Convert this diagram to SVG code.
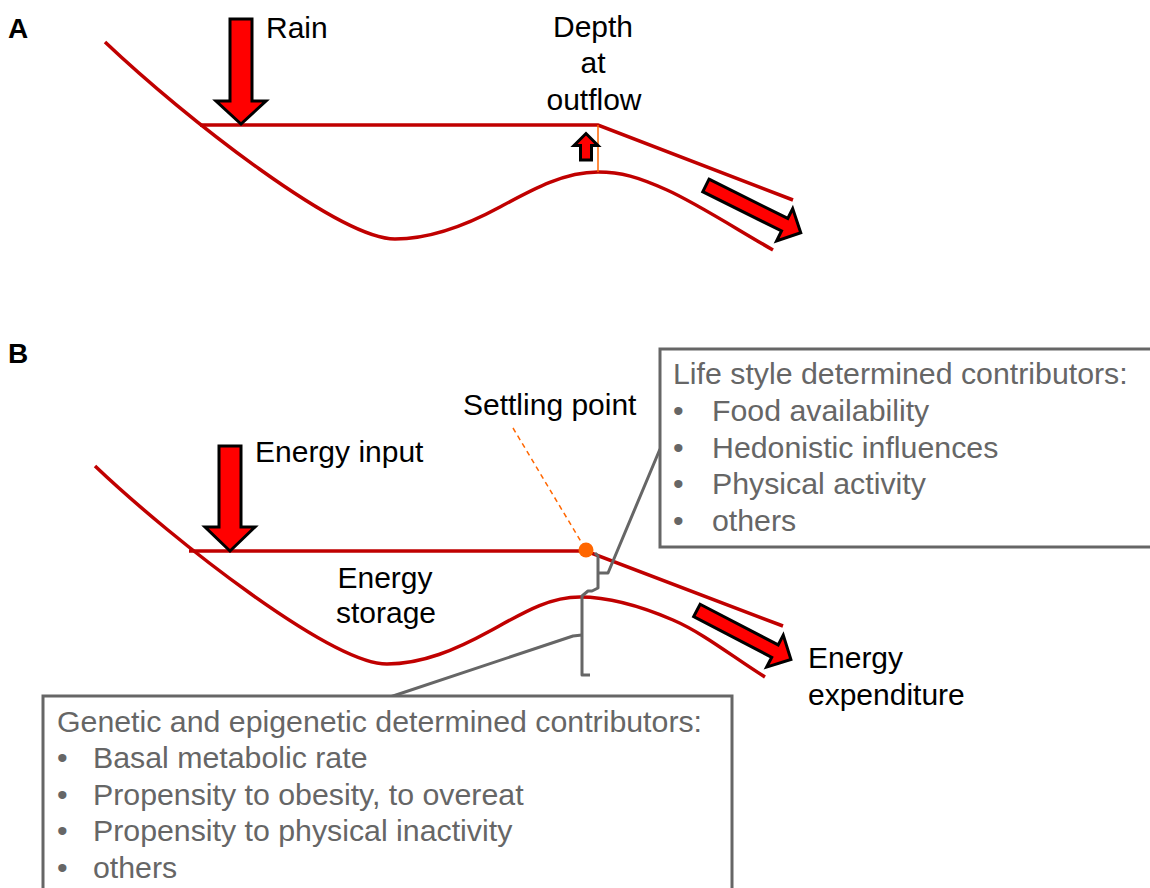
<svg xmlns="http://www.w3.org/2000/svg" width="1150" height="888" viewBox="0 0 1150 888">
<style>
.lbl{font-family:"Liberation Sans",Arial,sans-serif;font-size:30px;fill:#000}
.pl{font-family:"Liberation Sans",Arial,sans-serif;font-size:28px;font-weight:bold;fill:#000}
.box{font-family:"Liberation Sans",Arial,sans-serif;font-size:30.3px;fill:#666}
.red{fill:none;stroke:#C00000;stroke-width:3.5}
.arr{fill:#FF0000;stroke:#000;stroke-width:3;stroke-linejoin:miter}
.gray{fill:none;stroke:#666;stroke-width:3;stroke-linejoin:round}
.frame{fill:#fff;stroke:#666;stroke-width:3}
</style>
<rect width="1150" height="888" fill="#fff"/>

<g id="panelA">
  <text class="pl" x="8" y="38">A</text>
  <g id="A-terrain">
    <path class="red" d="M105,42 C185,118 340,239 395,239 C430,239 465,226 500,207 C535,188 565,172 598,172 C621,172 638,177 667,190 C696,203 738,230 773,250"/>
    <path class="red" d="M200,125 H598 L793,200"/>
    <line x1="598" y1="125" x2="598" y2="172" stroke="#FF6600" stroke-width="1.5"/>
  </g>
  <g id="A-rain">
    <polygon class="arr" points="230,19 252,19 252,101 266,101 241,124 216,101 230,101"/>
    <text class="lbl" x="266" y="38">Rain</text>
  </g>
  <g id="A-depth">
    <polygon class="arr" points="580.5,160 591.5,160 591.5,145.5 598,145.5 586,133.5 574,145.5 580.5,145.5" stroke-width="2.5"/>
    <text class="lbl" text-anchor="middle" x="593" y="37">Depth</text>
    <text class="lbl" text-anchor="middle" x="593" y="73">at</text>
    <text class="lbl" text-anchor="middle" x="594" y="110">outflow</text>
  </g>
  <g id="A-outflow">
    <polygon class="arr" transform="translate(705,185) rotate(26.5)" points="1,-7 89,-7 89,-18 107,0 89,18 89,7 1,7"/>
  </g>
</g>

<g id="panelB">
  <text class="pl" x="8" y="363">B</text>
  <g id="B-terrain">
    <path class="red" d="M95,466 C175,542 332,664 387,664 C422,664 456,649.7 490,631 C524,612.3 549,597 580,597 C611,597 642.2,606.7 673,620 C703.8,633.3 734.3,658 765,677"/>
    <path class="red" d="M189,551 H586 L783,626"/>
  </g>
  <g id="B-input">
    <polygon class="arr" points="219,446 241,446 241,527 255,527 230,551 205,527 219,527"/>
    <text class="lbl" x="255" y="462">Energy input</text>
  </g>
  <g id="B-storage">
    <text class="lbl" text-anchor="middle" x="385" y="588">Energy</text>
    <text class="lbl" text-anchor="middle" x="386" y="623">storage</text>
  </g>
  <g id="B-expenditure">
    <polygon class="arr" transform="translate(696,610) rotate(27.5)" points="1,-7 89,-7 89,-18 107,0 89,18 89,7 1,7"/>
    <text class="lbl" x="808" y="668">Energy</text>
    <text class="lbl" x="808" y="705">expenditure</text>
  </g>
  <g id="B-settling">
    <line x1="513" y1="428" x2="583" y2="545" stroke="#FF6600" stroke-width="1.5" stroke-dasharray="5,4"/>
    <circle cx="586" cy="550" r="7.5" fill="#FF6600"/>
    <text class="lbl" x="463" y="415">Settling point</text>
  </g>
</g>

<g id="connectors">
  <path class="gray" d="M595,553 L598,556 L598,588 L592,591 L588,591 L582,596 L582,675 L590,675"/>
  <path class="gray" d="M598,573 L608,573 L660,449"/>
  <path class="gray" d="M582,635 L573,636 L390,697"/>
</g>

<g id="box-lifestyle">
  <rect class="frame" x="660" y="349" width="500" height="198"/>
  <text class="box" x="673" y="384">Life style determined contributors:</text>
  <text class="box" x="673" y="421">•</text><text class="box" x="712" y="421">Food availability</text>
  <text class="box" x="673" y="458">•</text><text class="box" x="712" y="458">Hedonistic influences</text>
  <text class="box" x="673" y="494">•</text><text class="box" x="712" y="494">Physical activity</text>
  <text class="box" x="673" y="531">•</text><text class="box" x="712" y="531">others</text>
</g>

<g id="box-genetic">
  <rect class="frame" x="43" y="696" width="689" height="210"/>
  <text class="box" x="57" y="732">Genetic and epigenetic determined contributors:</text>
  <text class="box" x="57" y="768">•</text><text class="box" x="93" y="768">Basal metabolic rate</text>
  <text class="box" x="57" y="805">•</text><text class="box" x="93" y="805">Propensity to obesity, to overeat</text>
  <text class="box" x="57" y="841">•</text><text class="box" x="93" y="841">Propensity to physical inactivity</text>
  <text class="box" x="57" y="878">•</text><text class="box" x="93" y="878">others</text>
</g>
</svg>
